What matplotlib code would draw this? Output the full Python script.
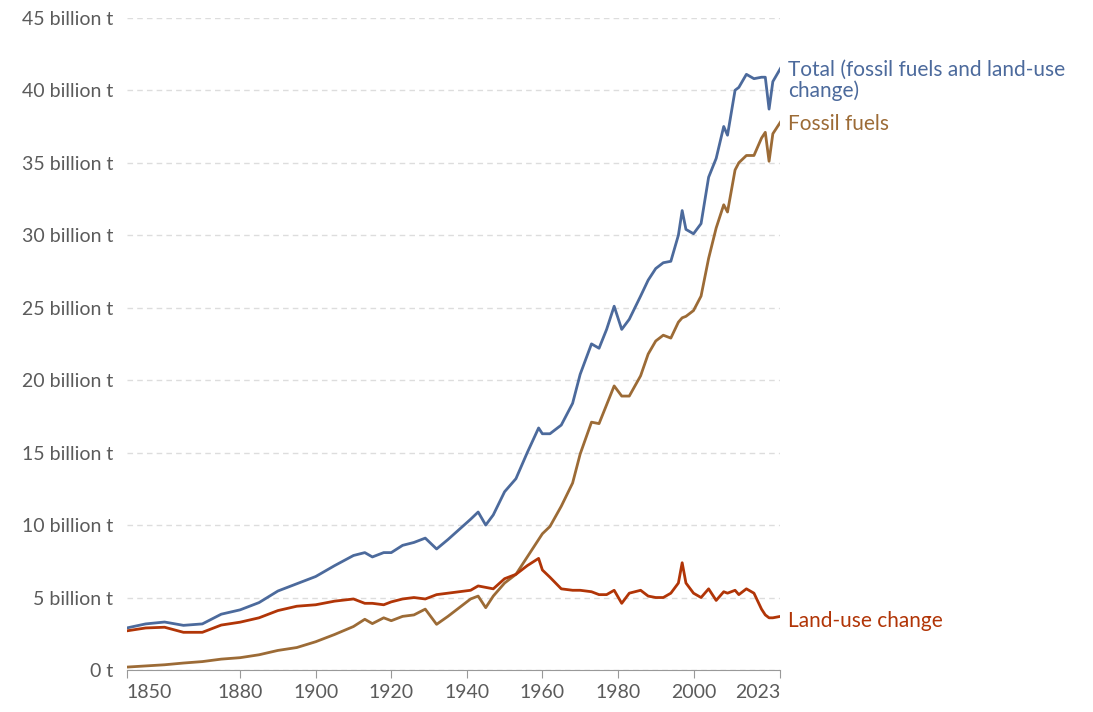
import matplotlib.pyplot as plt

plt.rcParams['font.family'] = ['Lato', 'DejaVu Sans']

years = [1850, 1855, 1860, 1865, 1870, 1875, 1880, 1885, 1890, 1895, 1900, 1905, 1910, 1913,
         1915, 1918, 1920, 1923, 1926, 1929, 1932, 1935, 1938, 1941, 1943, 1945, 1947, 1950,
         1953, 1956, 1959, 1960, 1962, 1965, 1968, 1970, 1973, 1975, 1977, 1979, 1981, 1983,
         1986, 1988, 1990, 1992, 1994, 1996, 1997, 1998, 2000, 2002, 2004, 2006, 2008, 2009,
         2011, 2012, 2014, 2016, 2018, 2019, 2020, 2021, 2023]
fossil = [0.20, 0.28, 0.36, 0.48, 0.58, 0.75, 0.85, 1.05, 1.35, 1.55, 1.95, 2.45, 3.00, 3.50,
          3.20, 3.60, 3.40, 3.70, 3.80, 4.20, 3.15, 3.70, 4.30, 4.90, 5.10, 4.30, 5.10, 6.00,
          6.60, 7.80, 9.00, 9.40, 9.90, 11.3, 12.9, 14.9, 17.1, 17.0, 18.3, 19.6, 18.9, 18.9,
          20.3, 21.8, 22.7, 23.1, 22.9, 24.0, 24.3, 24.4, 24.8, 25.8, 28.4, 30.5, 32.1, 31.6,
          34.5, 35.0, 35.5, 35.5, 36.7, 37.1, 35.1, 37.0, 37.8]
land_use = [2.7, 2.9, 2.95, 2.6, 2.6, 3.1, 3.3, 3.6, 4.1, 4.4, 4.5, 4.75, 4.9, 4.6,
            4.6, 4.5, 4.7, 4.9, 5.0, 4.9, 5.2, 5.3, 5.4, 5.5, 5.8, 5.7, 5.6, 6.3,
            6.6, 7.2, 7.7, 6.9, 6.4, 5.6, 5.5, 5.5, 5.4, 5.2, 5.2, 5.5, 4.6, 5.3,
            5.5, 5.1, 5.0, 5.0, 5.3, 6.0, 7.4, 6.0, 5.3, 5.0, 5.6, 4.8, 5.4, 5.3,
            5.5, 5.2, 5.6, 5.3, 4.2, 3.8, 3.6, 3.6, 3.7]
total = [f + l for f, l in zip(fossil, land_use)]

x_ticks = [1850, 1880, 1900, 1920, 1940, 1960, 1980, 2000, 2023]
y_ticks = list(range(0, 50, 5))

BLUE, BROWN, RED = '#4C6A9C', '#9C6B36', '#B13507'
GRID = '#DDDDDD'
TXT = '#5B5B5B'

fig = plt.figure(figsize=(10.93, 7.12), dpi=100)
ax = fig.add_axes([0.116, 0.059, 0.598, 0.916])

ax.plot(years, total, color=BLUE, lw=2)
ax.plot(years, fossil, color=BROWN, lw=2)
ax.plot(years, land_use, color=RED, lw=2)

ax.set_xlim(1850, 2023)
ax.set_ylim(0, 45)
ax.set_yticks(y_ticks)
ax.set_yticklabels(['0 t'] + [f'{v} billion t' for v in y_ticks[1:]])
ax.set_xticks(x_ticks)
ax.set_xticklabels([str(v) for v in x_ticks])
for i, lab in enumerate(ax.get_xticklabels()):
    if i == 0:
        lab.set_ha('left')
    elif i == len(x_ticks) - 1:
        lab.set_ha('right')
ax.grid(axis='y', color=GRID, ls=(0, (4, 3)), lw=1)
ax.set_axisbelow(True)
for s in ['top', 'right', 'left']:
    ax.spines[s].set_visible(False)
ax.spines['bottom'].set_color('#999999')
ax.tick_params(axis='y', length=0, labelsize=14, labelcolor=TXT, pad=10)
ax.tick_params(axis='x', length=6, color='#999999', labelsize=14, labelcolor=TXT, pad=4)

ax.text(2025, total[-1] - 0.8, 'Total (fossil fuels and land-use\nchange)', color=BLUE,
        fontsize=15, va='center', ha='left', clip_on=False, linespacing=1.05)
ax.text(2025, fossil[-1] - 0.1, 'Fossil fuels', color=BROWN, fontsize=15,
        va='center', ha='left', clip_on=False)
ax.text(2025, land_use[-1] - 0.3, 'Land-use change', color=RED, fontsize=15,
        va='center', ha='left', clip_on=False)

fig.savefig('out.png', dpi=100, facecolor='white')
